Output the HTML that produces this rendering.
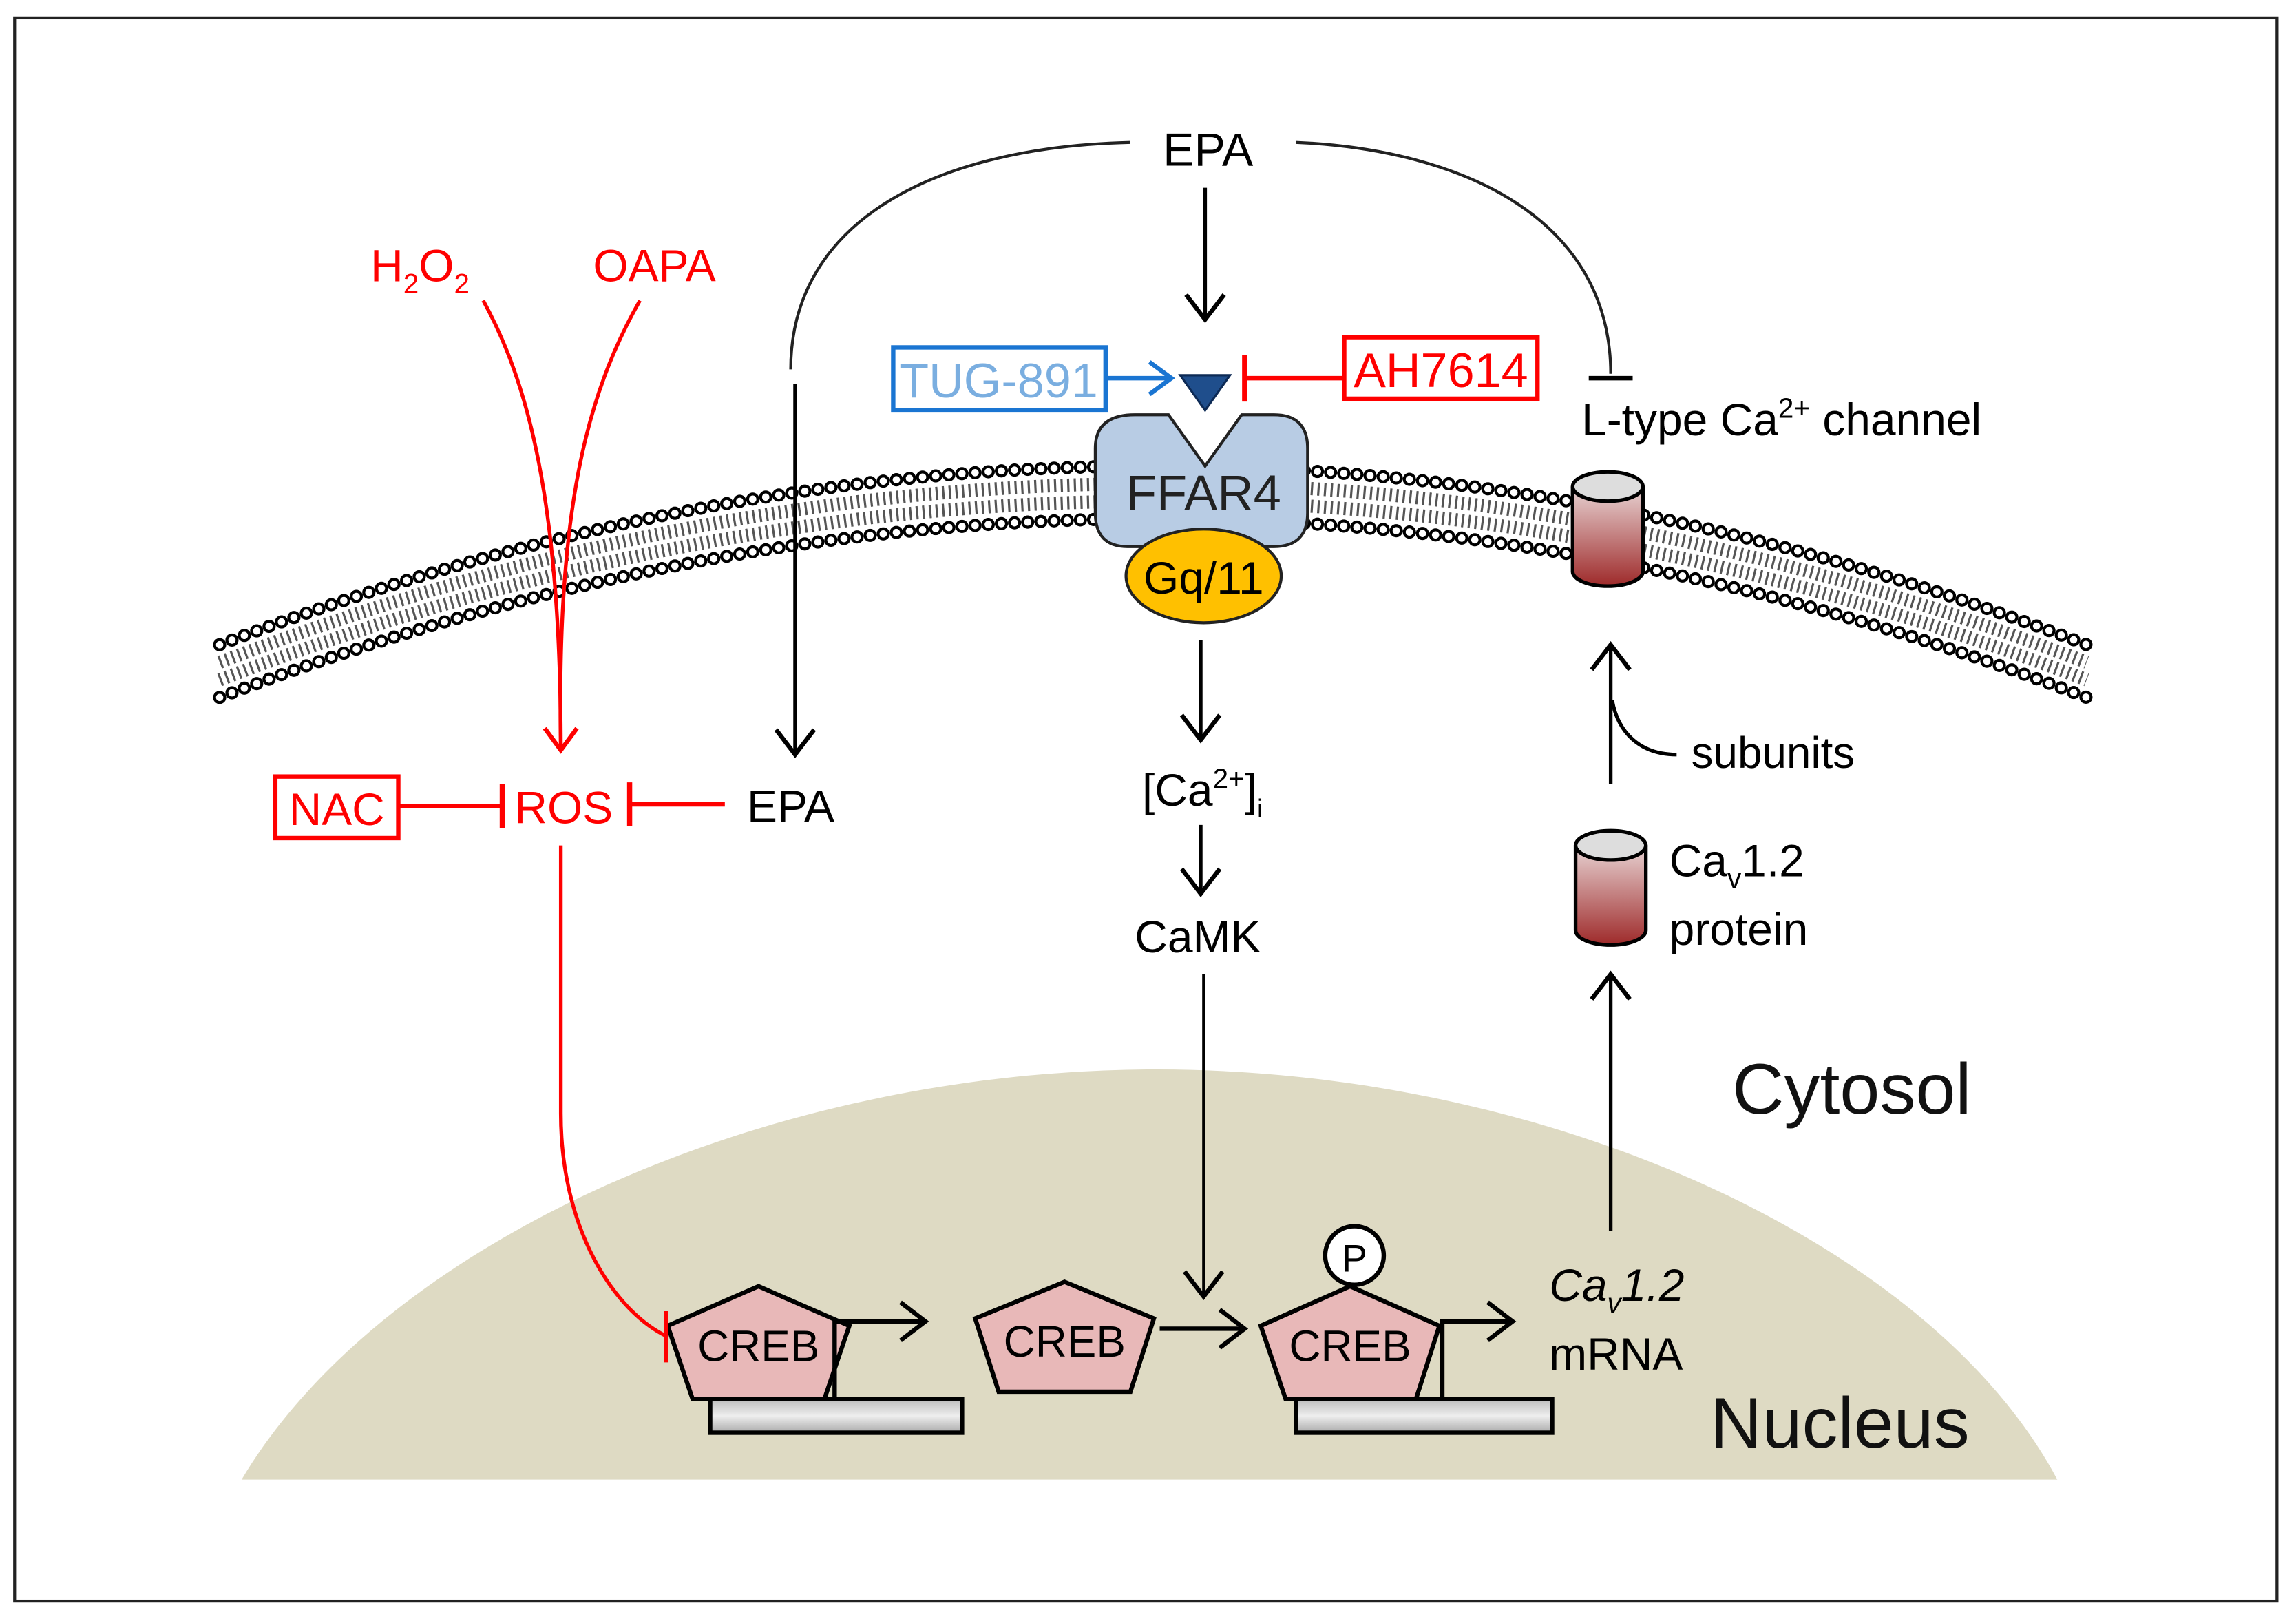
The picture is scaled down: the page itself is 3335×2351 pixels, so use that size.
<!DOCTYPE html>
<html><head><meta charset="utf-8"><style>
html,body{margin:0;padding:0;background:#fff;}
svg{display:block;}
text{font-family:"Liberation Sans",Arial,sans-serif;}
</style></head><body>
<svg width="3335" height="2351" viewBox="0 0 1568 1105" xmlns="http://www.w3.org/2000/svg">
<defs>
<marker id="abB" markerWidth="30" markerHeight="30" refX="27" refY="15" orient="auto" markerUnits="userSpaceOnUse"><path d="M10,2 L27,15 L10,28" fill="none" stroke="#000" stroke-width="3"/></marker>
<marker id="abR" markerWidth="30" markerHeight="30" refX="27" refY="15" orient="auto" markerUnits="userSpaceOnUse"><path d="M12,4 L27,15 L12,26" fill="none" stroke="#f00" stroke-width="3"/></marker>
<marker id="abBl" markerWidth="30" markerHeight="30" refX="27" refY="15" orient="auto" markerUnits="userSpaceOnUse"><path d="M12,4 L27,15 L12,26" fill="none" stroke="#1a75d2" stroke-width="3"/></marker>
<linearGradient id="cyl" x1="0" y1="0" x2="0" y2="1"><stop offset="0" stop-color="#e8d4d4"/><stop offset="1" stop-color="#9e2a2a"/></linearGradient>
<linearGradient id="bar" x1="0" y1="0" x2="0" y2="1"><stop offset="0" stop-color="#bbb"/><stop offset="0.5" stop-color="#eee"/><stop offset="1" stop-color="#aaa"/></linearGradient>
</defs>
<rect x="10" y="12" width="1545" height="1081" fill="#fff" stroke="#222" stroke-width="2"/>
<path d="M165,1010 C260,850 520,730 790,730 C1060,730 1320,850 1405,1010 Z" fill="#dedac3"/>
<g fill="none">
<path d="M150,440 Q790,196 1425,440" stroke="#000" stroke-width="9" stroke-dasharray="0 9" stroke-linecap="round"/>
<path d="M150,440 Q790,196 1425,440" stroke="#fff" stroke-width="5" stroke-dasharray="0 9" stroke-linecap="round"/>
<path d="M150,476 Q790,232 1425,476" stroke="#000" stroke-width="9" stroke-dasharray="0 9" stroke-linecap="round"/>
<path d="M150,476 Q790,232 1425,476" stroke="#fff" stroke-width="5" stroke-dasharray="0 9" stroke-linecap="round"/>
<path d="M150,452 Q790,208 1425,452" stroke="#555" stroke-width="9" stroke-dasharray="1.5 3"/>
<path d="M150,464 Q790,220 1425,464" stroke="#555" stroke-width="9" stroke-dasharray="1.5 3"/>
</g>
<text x="825" y="113" font-size="32" text-anchor="middle">EPA</text>
<path d="M772,97 C640,100 540,150 540,252" fill="none" stroke="#222" stroke-width="2"/>
<line x1="543" y1="262" x2="543" y2="515" stroke="#000" stroke-width="2.5" marker-end="url(#abB)"/>
<path d="M885,97 C1000,102 1100,150 1100,255" fill="none" stroke="#222" stroke-width="2"/>
<line x1="1085" y1="258" x2="1115" y2="258" stroke="#000" stroke-width="3"/>
<line x1="823" y1="128" x2="823" y2="218" stroke="#000" stroke-width="2.5" marker-end="url(#abB)"/>
<path d="M806,256 L840,256 L823,280 Z" fill="#1f4e8c" stroke="#0d2a55" stroke-width="1.5"/>
<rect x="610" y="237" width="145" height="43" fill="#fff" stroke="#1a75d2" stroke-width="3"/>
<text x="682" y="271" font-size="33" fill="#7aaee0" text-anchor="middle">TUG-891</text>
<line x1="755" y1="258" x2="800" y2="258" stroke="#1a75d2" stroke-width="3" marker-end="url(#abBl)"/>
<rect x="918" y="230" width="132" height="42" fill="#fff" stroke="#f00" stroke-width="3"/>
<text x="984" y="264" font-size="33" fill="#f00" text-anchor="middle">AH7614</text>
<line x1="918" y1="258" x2="850" y2="258" stroke="#f00" stroke-width="3"/>
<line x1="850" y1="242" x2="850" y2="274" stroke="#f00" stroke-width="3.5"/>
<text x="1080" y="297" font-size="31">L-type Ca<tspan font-size="19" dy="-12">2+</tspan><tspan dy="12"> channel</tspan></text>
<path d="M775,283 L798,283 L823,318 L848,283 L870,283 Q893,283 893,306 L893,350 Q893,373 870,373 L770,373 Q748,373 748,350 L748,306 Q748,283 775,283 Z" fill="#b8cce4" stroke="#222" stroke-width="2"/>
<text x="822" y="348" font-size="34" text-anchor="middle" fill="#222">FFAR4</text>
<ellipse cx="822" cy="393" rx="53" ry="32" fill="#ffc000" stroke="#222" stroke-width="2"/>
<text x="822" y="405" font-size="31" text-anchor="middle">Gq/11</text>
<line x1="820" y1="437" x2="820" y2="505" stroke="#000" stroke-width="2.5" marker-end="url(#abB)"/>
<text x="780" y="550" font-size="31">[Ca<tspan font-size="19" dy="-12">2+</tspan><tspan dy="12">]</tspan><tspan font-size="18" dy="8">i</tspan></text>
<line x1="820" y1="563" x2="820" y2="610" stroke="#000" stroke-width="2.5" marker-end="url(#abB)"/>
<text x="818" y="650" font-size="31" text-anchor="middle">CaMK</text>
<line x1="822" y1="665" x2="822" y2="885" stroke="#000" stroke-width="2" marker-end="url(#abB)"/>
<g stroke="#000" stroke-width="3">
<path d="M518,878 L580,905 L563,955 L473,955 L456,905 Z" fill="#e8b8b8"/>
<path d="M727,875 L788,900 L772,950 L682,950 L666,900 Z" fill="#e8b8b8"/>
<path d="M922,878 L983,905 L967,955 L878,955 L861,905 Z" fill="#e8b8b8"/>
<rect x="485" y="955" width="172" height="23" fill="url(#bar)"/>
<rect x="885" y="955" width="175" height="23" fill="url(#bar)"/>
</g>
<text x="518" y="929" font-size="30" text-anchor="middle">CREB</text>
<text x="727" y="926" font-size="30" text-anchor="middle">CREB</text>
<text x="922" y="929" font-size="30" text-anchor="middle">CREB</text>
<path d="M570,955 L570,902 L632,902" fill="none" stroke="#000" stroke-width="3" marker-end="url(#abB)"/>
<path d="M985,955 L985,902 L1033,902" fill="none" stroke="#000" stroke-width="3" marker-end="url(#abB)"/>
<line x1="792" y1="907" x2="850" y2="907" stroke="#000" stroke-width="3" marker-end="url(#abB)"/>
<ellipse cx="925" cy="857" rx="20" ry="20" fill="#fff" stroke="#000" stroke-width="3"/>
<text x="925" y="868" font-size="26" text-anchor="middle">P</text>
<text x="1058" y="888" font-size="31" font-style="italic">Ca<tspan font-size="19" dy="8">v</tspan><tspan dy="-8">1.2</tspan></text>
<text x="1058" y="935" font-size="31">mRNA</text>
<line x1="1100" y1="840" x2="1100" y2="665" stroke="#000" stroke-width="2.5" marker-end="url(#abB)"/>
<g stroke="#000" stroke-width="2.5">
<path d="M1076,577 L1076,635 A24,10 0 0 0 1124,635 L1124,577" fill="url(#cyl)"/>
<ellipse cx="1100" cy="577" rx="24" ry="10" fill="#ddd"/>
<path d="M1074,332 L1074,390 A24,10 0 0 0 1122,390 L1122,332" fill="url(#cyl)"/>
<ellipse cx="1098" cy="332" rx="24" ry="10" fill="#ddd"/>
</g>
<text x="1140" y="598" font-size="31">Ca<tspan font-size="19" dy="8">v</tspan><tspan dy="-8">1.2</tspan></text>
<text x="1140" y="645" font-size="31">protein</text>
<line x1="1100" y1="535" x2="1100" y2="440" stroke="#000" stroke-width="2.5" marker-end="url(#abB)"/>
<path d="M1145,515 C1120,515 1105,500 1101,478" fill="none" stroke="#000" stroke-width="2.5"/>
<text x="1155" y="524" font-size="30">subunits</text>
<text x="253" y="192" font-size="31" fill="#f00">H<tspan font-size="19" dy="8">2</tspan><tspan dy="-8">O</tspan><tspan font-size="19" dy="8">2</tspan></text>
<text x="405" y="192" font-size="31" fill="#f00">OAPA</text>
<path d="M330,205 C360,260 383,340 383,512" fill="none" stroke="#f00" stroke-width="2.5" marker-end="url(#abR)"/>
<path d="M437,205 C400,270 380,350 383,512" fill="none" stroke="#f00" stroke-width="2.5"/>
<text x="385" y="562" font-size="31" fill="#f00" text-anchor="middle">ROS</text>
<rect x="188" y="530" width="84" height="42" fill="#fff" stroke="#f00" stroke-width="3"/>
<text x="230" y="563" font-size="31" fill="#f00" text-anchor="middle">NAC</text>
<line x1="272" y1="550" x2="343" y2="550" stroke="#f00" stroke-width="3"/>
<line x1="343" y1="535" x2="343" y2="565" stroke="#f00" stroke-width="3.5"/>
<text x="540" y="561" font-size="31" text-anchor="middle">EPA</text>
<line x1="495" y1="549" x2="430" y2="549" stroke="#f00" stroke-width="3"/>
<line x1="430" y1="534" x2="430" y2="564" stroke="#f00" stroke-width="3.5"/>
<path d="M383,577 L383,760 C383,840 420,895 455,912" fill="none" stroke="#f00" stroke-width="2.5"/>
<line x1="455" y1="895" x2="455" y2="930" stroke="#f00" stroke-width="3"/>
<text x="1183" y="760" font-size="49" fill="#111">Cytosol</text>
<text x="1168" y="988" font-size="49" fill="#111">Nucleus</text>
</svg>
</body></html>
